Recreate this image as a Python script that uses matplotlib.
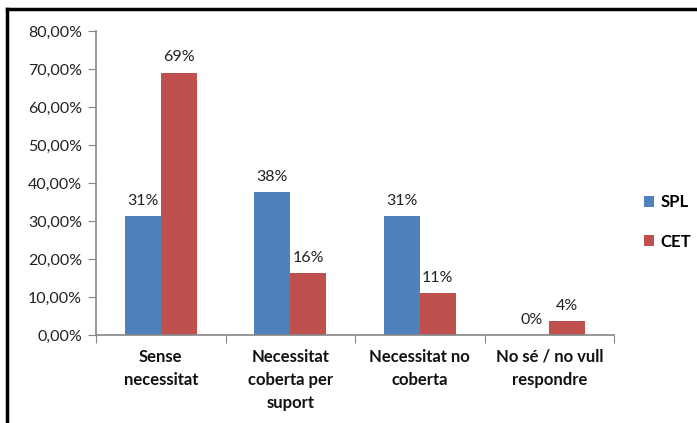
import numpy as np
import matplotlib
matplotlib.use("Agg")
import matplotlib.pyplot as plt
from matplotlib.lines import Line2D

# data
categories = ["Sense\nnecessitat", "Necessitat\ncoberta per\nsuport",
              "Necessitat no\ncoberta", "No sé / no vull\nrespondre"]
spl = [31.25, 37.5, 31.25, 0.0]
cet = [69.0, 16.3, 11.0, 3.7]
spl_labels = ["31%", "38%", "31%", "0%"]
cet_labels = ["69%", "16%", "11%", "4%"]
y_ticks = [0, 10, 20, 30, 40, 50, 60, 70, 80]

BLUE = "#4F81BD"
RED = "#C0504D"
GREY = "#868686"

plt.rcParams["font.family"] = ["Lato", "DejaVu Sans"]

fig = plt.figure(figsize=(6.97, 4.23), dpi=100)
ax = fig.add_axes([96 / 697, 1 - 335 / 423, (614 - 96) / 697, (335 - 31) / 423])

x = np.arange(len(categories))
w = 0.277
b1 = ax.bar(x - w / 2, spl, w, color=BLUE, label="SPL")
b2 = ax.bar(x + w / 2, cet, w, color=RED, label="CET")

for bars, labels in ((b1, spl_labels), (b2, cet_labels)):
    for bar, lab in zip(bars, labels):
        ax.annotate(lab, (bar.get_x() + bar.get_width() / 2, bar.get_height()),
                    xytext=(0, 6), textcoords="offset points",
                    ha="center", va="bottom", fontsize=11.5, color="#222222")

ax.set_xlim(-0.5, len(categories) - 0.5)
ax.set_ylim(0, 80)
ax.set_yticks(y_ticks)
ax.set_yticklabels([f"{v:.2f}%".replace(".", ",") for v in y_ticks],
                   fontsize=11.5, color="#222222")

# category boundary ticks on x axis, labels placed separately
ax.set_xticks(np.arange(len(categories) + 1) - 0.5)
ax.set_xticklabels([])
ax.tick_params(axis="x", direction="out", length=6, color=GREY)
ax.tick_params(axis="y", direction="out", length=6, color=GREY, pad=4)

for i, cat in enumerate(categories):
    ax.text(i, -3.6, cat, ha="center", va="top", fontsize=12,
            fontweight="bold", linespacing=1.55, color="#111111",
            transform=ax.transData)

for s in ("top", "right"):
    ax.spines[s].set_visible(False)
for s in ("left", "bottom"):
    ax.spines[s].set_color(GREY)
    ax.spines[s].set_linewidth(1.2)

leg = fig.legend(handles=[b1, b2], labels=["SPL", "CET"],
                 loc="center left", bbox_to_anchor=(644 / 697, 1 - 222 / 423),
                 frameon=False, handlelength=0.6, handleheight=0.6,
                 labelspacing=1.4, handletextpad=0.4,
                 borderpad=0, borderaxespad=0,
                 prop={"weight": "bold", "size": 12})

# outer chart frame (top and left edges visible)
fig.add_artist(Line2D([7 / 697, 1.0], [1 - 9 / 423, 1 - 9 / 423],
                      transform=fig.transFigure, color="black", linewidth=2.5))
fig.add_artist(Line2D([7 / 697, 7 / 697], [0.0, 1 - 9 / 423],
                      transform=fig.transFigure, color="black", linewidth=2.5))

fig.savefig("out.png", dpi=100)
